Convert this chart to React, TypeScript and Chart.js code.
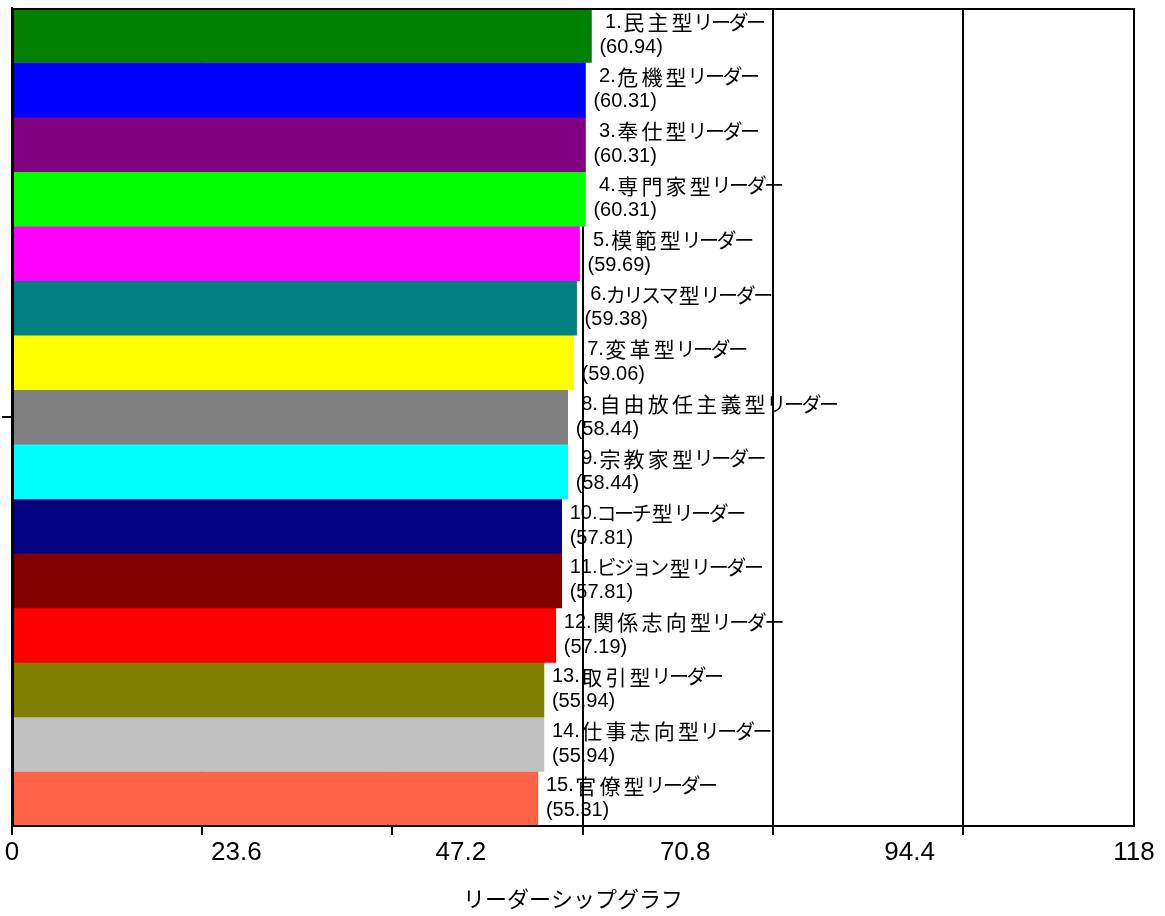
import React, { useEffect, useRef } from "react";
import { Chart, registerables } from "chart.js";

Chart.register(...registerables);

const LEADER_LABELS = [
  " 1.民主型リーダー",
  " 2.危機型リーダー",
  " 3.奉仕型リーダー",
  " 4.専門家型リーダー",
  " 5.模範型リーダー",
  " 6.カリスマ型リーダー",
  " 7.変革型リーダー",
  " 8.自由放任主義型リーダー",
  " 9.宗教家型リーダー",
  "10.コーチ型リーダー",
  "11.ビジョン型リーダー",
  "12.関係志向型リーダー",
  "13.取引型リーダー",
  "14.仕事志向型リーダー",
  "15.官僚型リーダー",
];

const SCORES = [
  60.94, 60.31, 60.31, 60.31, 59.69, 59.38, 59.06, 58.44, 58.44, 57.81, 57.81,
  57.19, 55.94, 55.94, 55.31,
];

const BAR_COLORS = [
  "#008000",
  "#0000FF",
  "#800080",
  "#00FF00",
  "#FF00FF",
  "#008080",
  "#FFFF00",
  "#808080",
  "#00FFFF",
  "#000080",
  "#800000",
  "#FF0000",
  "#808000",
  "#C0C0C0",
  "#FF6347",
];

const CATEGORY = [""];
const X_MIN = 0;
const X_MAX = 118;
const GRID_VALUES = [0, 20, 40, 60, 80, 100];
const TICK_VALUES = [0, 23.6, 47.2, 70.8, 94.4, 118];
const TICK_LABELS = ["0", "23.6", "47.2", "70.8", "94.4", "118"];
const AXIS_TITLE = "リーダーシップグラフ";

const FONT = '"Liberation Sans", Arial, "Noto Sans CJK JP", sans-serif';
const CJK_FONT = '"Noto Sans CJK JP", sans-serif';

function isKanji(ch: string) {
  const c = ch.codePointAt(0) || 0;
  return c >= 0x4e00 && c <= 0x9fff;
}
function isKana(ch: string) {
  const c = ch.codePointAt(0) || 0;
  return c >= 0x3040 && c <= 0x30ff;
}

function drawProportional(ctx: CanvasRenderingContext2D, text: string, x: number, y: number) {
  let cx = x;
  for (const ch of Array.from(text)) {
    if (isKanji(ch)) {
      ctx.font = `21px ${CJK_FONT}`;
      ctx.fillText(ch, cx + 1.5, y);
      cx += 24.2;
    } else if (isKana(ch)) {
      ctx.font = `20px ${CJK_FONT}`;
      ctx.fillText(ch, cx - 1, y);
      cx += 17.6;
    } else {
      ctx.font = `20px ${FONT}`;
      ctx.fillText(ch, cx, y);
      cx += ctx.measureText(ch).width;
    }
  }
}

const overlayPlugin = {
  id: "overlay",
  afterDatasetsDraw(chart: any) {
    const ctx = chart.ctx as CanvasRenderingContext2D;
    const { left, right, top, bottom } = chart.chartArea;
    ctx.save();
    ctx.strokeStyle = "#000";
    ctx.lineWidth = 2;
    ctx.beginPath();
    ctx.moveTo(left, top + 1);
    ctx.lineTo(right, top + 1);
    ctx.lineTo(right, bottom);
    ctx.stroke();
    ctx.beginPath();
    ctx.moveTo(left + 1, top);
    ctx.lineTo(left + 1, bottom);
    ctx.lineTo(right + 1, bottom);
    ctx.stroke();

    ctx.fillStyle = "#000";
    ctx.textAlign = "left";
    ctx.textBaseline = "middle";
    chart.data.datasets.forEach((ds: any, i: number) => {
      const bar = chart.getDatasetMeta(i).data[0];
      if (!bar) return;
      const x = bar.x + 8;
      drawProportional(ctx, ds.label, x, bar.y - 13);
      ctx.font = `20px ${FONT}`;
      ctx.fillText(`(${Number(ds.data[0]).toFixed(2)})`, x, bar.y + 12);
    });
    ctx.restore();
  },
};

export default function App() {
  const ref = useRef<HTMLCanvasElement>(null);

  useEffect(() => {
    document.body.style.margin = "0";
    const canvas = ref.current;
    if (!canvas) return;
    const chart = new Chart(canvas, {
      type: "bar",
      data: {
        labels: CATEGORY,
        datasets: LEADER_LABELS.map((label, i) => ({
          label,
          data: [SCORES[i]],
          backgroundColor: BAR_COLORS[i],
          borderWidth: 0,
          barPercentage: 1,
          categoryPercentage: 1,
        })),
      },
      options: {
        indexAxis: "y",
        responsive: false,
        animation: false,
        layout: { padding: { top: 8, right: 31, bottom: 0, left: 0 } },
        plugins: {
          legend: { display: false },
          tooltip: { enabled: false },
        },
        scales: {
          y: {
            type: "category",
            position: "left",
            ticks: { display: false },
            grid: {
              offset: false,
              drawOnChartArea: false,
              tickLength: 10,
              color: "#000",
              lineWidth: 2,
            },
            border: { display: true, color: "#000", width: 2 },
            afterFit: (s: any) => {
              s.width = 12;
            },
          },
          x: {
            type: "linear",
            position: "bottom",
            min: X_MIN,
            max: X_MAX,
            afterBuildTicks: (s: any) => {
              s.ticks = GRID_VALUES.map((v) => ({ value: v }));
            },
            ticks: { display: false },
            grid: {
              color: "#000",
              lineWidth: 2,
              tickLength: 9,
              drawOnChartArea: true,
            },
            border: { display: true, color: "#000", width: 2 },
            afterFit: (s: any) => {
              s.height = 9;
            },
          },
          x2: {
            type: "linear",
            position: "bottom",
            weight: 1,
            min: X_MIN,
            max: X_MAX,
            afterBuildTicks: (s: any) => {
              s.ticks = TICK_VALUES.map((v) => ({ value: v }));
            },
            ticks: {
              autoSkip: false,
              maxRotation: 0,
              color: "#000",
              padding: 2,
              font: { family: FONT, size: 26 },
              callback: (_v: any, i: number) => TICK_LABELS[i],
            },
            grid: { display: false, drawTicks: false },
            border: { display: false },
            title: {
              display: true,
              text: AXIS_TITLE,
              color: "#000",
              font: { family: FONT, size: 22 },
              padding: { top: 0, bottom: 2 },
            },
            afterFit: (s: any) => {
              s.height = 81;
            },
          },
        },
      } as any,
      plugins: [overlayPlugin],
    });
    return () => chart.destroy();
  }, []);

  return (
    <canvas
      ref={ref}
      width={1165}
      height={916}
      style={{ display: "block", width: "1165px", height: "916px" }}
    />
  );
}
